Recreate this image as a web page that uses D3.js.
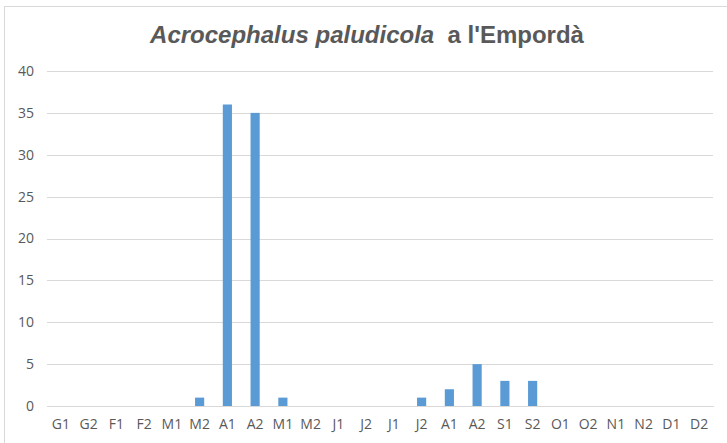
<!DOCTYPE html>
<html>
<head>
<meta charset="utf-8">
<script src="https://cdn.jsdelivr.net/npm/d3@7"></script>
<style>
  html, body { margin: 0; padding: 0; background: #fff; }
  svg { display: block; }
</style>
</head>
<body>
<svg id="chart" width="727" height="443"></svg>
<script>
// Fortnightly periods (first/second half of each month)
const periods = ["G1","G2","F1","F2","M1","M2","A1","A2","M1","M2","J1","J2",
                 "J1","J2","A1","A2","S1","S2","O1","O2","N1","N2","D1","D2"];
// Birds recorded per period
const counts = [0,0,0,0,0,1,36,35,1,0,0,0,0,1,2,5,3,3,0,0,0,0,0,0];
const yTicks = [0,5,10,15,20,25,30,35,40];

const svg = d3.select("#chart");
const W = 727, H = 443;
const margin = {left: 47, right: 14, top: 71, bottom: 37};
const labelFont = "'Open Sans', 'Noto Sans', sans-serif";

// chart frame (top and left edges visible)
svg.append("rect").attr("x", 4.5).attr("y", 6.5).attr("width", W).attr("height", H)
  .attr("fill", "#fff").attr("stroke", "#d9d9d9").attr("stroke-width", 1);

const keys = periods.map((p, i) => i);
const x = d3.scaleBand().domain(keys).range([margin.left, W - margin.right]).paddingInner(0.67).paddingOuter(0.335);
const xb = d3.scaleBand().domain(keys).range([margin.left, W - margin.right]);
const y = d3.scaleLinear().domain([0, 40]).range([H - margin.bottom, margin.top]);

// gridlines
const yAxis = d3.axisLeft(y).tickValues(yTicks).tickSize(-(W - margin.right - margin.left)).tickPadding(13);
const gy = svg.append("g").attr("transform", `translate(${margin.left},0)`).call(yAxis);
gy.select(".domain").remove();
gy.selectAll(".tick line").attr("stroke", "#d9d9d9").attr("stroke-width", 1).attr("shape-rendering", "crispEdges");
gy.selectAll(".tick text").attr("fill", "#595959").style("font-family", labelFont).style("font-size", "14px");

// bars
svg.append("g").selectAll("rect").data(counts).join("rect")
  .attr("x", (d, i) => x(i))
  .attr("width", x.bandwidth())
  .attr("y", d => y(d))
  .attr("height", d => y(0) - y(d))
  .attr("fill", "#5b9bd5");

// category axis
const xAxis = d3.axisBottom(xb).tickSize(0).tickPadding(13).tickFormat(i => periods[i]);
const gx = svg.append("g").attr("transform", `translate(0,${y(0)})`).call(xAxis);
gx.select(".domain").attr("stroke", "#d9d9d9").attr("shape-rendering", "crispEdges");
gx.selectAll(".tick text").attr("fill", "#595959").style("font-family", labelFont).style("font-size", "14px");

// title
const title = svg.append("text").attr("x", 367).attr("y", 43).attr("text-anchor", "middle")
  .attr("fill", "#595959").style("font-family", "'Liberation Sans', Arial, sans-serif")
  .style("font-size", "24px").style("font-weight", "bold");
title.append("tspan").style("font-style", "italic").text("Acrocephalus paludicola");
title.append("tspan").attr("xml:space", "preserve").text("  a l'Empordà");
</script>
</body>
</html>
